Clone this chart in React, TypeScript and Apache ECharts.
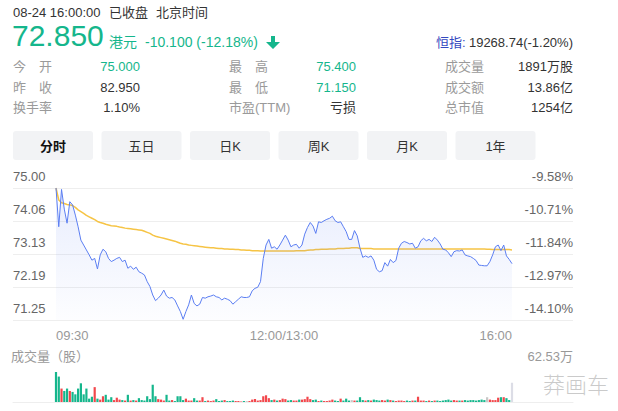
import React, { useEffect, useRef } from "react";
import * as echarts from "echarts";

// minute offsets from 09:30 (trading minutes, 2-minute samples), 0..330
const PRICES = [
  75.0, 73.9, 74.96, 74.4, 74.0, 74.61, 74.52, 74.23, 73.9, 73.52,
  73.38, 73.24, 73.1, 72.95, 73.0, 72.7, 73.1, 73.26, 73.19, 73.0,
  72.91, 72.95, 73.0, 73.03, 72.91, 72.95, 72.72, 72.78, 72.69, 72.75,
  72.62, 72.58, 72.53, 72.34, 72.2, 71.96, 71.8, 71.87, 71.96, 72.1,
  71.93, 71.87, 71.89, 71.82, 71.65, 71.49, 71.27, 71.49, 71.68, 71.96,
  71.72, 71.65, 71.7, 71.89, 71.87, 71.91, 71.93, 71.96, 71.91, 71.89,
  71.82, 71.87, 71.84, 71.8, 71.7, 71.77, 71.84, 71.91, 71.89, 71.89,
  71.91, 72.08, 72.15, 72.18, 72.34, 73.0, 73.38, 73.54, 73.29, 73.33,
  73.26, 73.38, 73.52, 73.66, 73.52, 73.33, 73.38, 73.4, 73.29, 73.38,
  73.69, 73.88, 74.02, 73.92, 73.71, 74.04, 74.02, 74.07, 74.11, 74.14,
  74.2, 74.07, 74.02, 74.04, 73.9, 73.76, 73.54, 73.54, 73.79, 73.64,
  73.29, 73.03, 73.07, 73.03, 73.07, 72.95, 72.69, 72.62, 72.65, 72.88,
  72.78, 72.97, 72.88, 72.94, 73.29, 73.43, 73.48, 73.45, 73.41, 73.43,
  73.29, 73.33, 73.5, 73.57, 73.5, 73.54, 73.48, 73.6, 73.52, 73.41,
  73.26, 73.24, 73.16, 73.05, 73.19, 73.22, 73.21, 73.24, 73.1, 73.07,
  73.05, 73.0, 72.94, 72.81, 72.8, 72.79, 72.79, 72.91, 73.1, 73.33,
  73.38, 73.22, 73.38, 73.07, 72.97, 72.85,
];

const AVG_PRICES = [
  75.0, 74.66, 74.58, 74.56, 74.53, 74.52, 74.5, 74.45, 74.38, 74.33,
  74.28, 74.22, 74.18, 74.14, 74.1, 74.05, 74.02, 74.0, 73.97, 73.95,
  73.93, 73.92, 73.91, 73.89, 73.88, 73.86, 73.85, 73.84, 73.83, 73.82,
  73.81, 73.8, 73.77, 73.74, 73.71, 73.66, 73.63, 73.61, 73.59, 73.57,
  73.55, 73.53, 73.51, 73.49, 73.46, 73.43, 73.41, 73.4, 73.38, 73.37,
  73.36, 73.35, 73.34, 73.33, 73.32, 73.31, 73.3, 73.3, 73.29, 73.28,
  73.28, 73.27, 73.27, 73.26, 73.26, 73.25, 73.25, 73.24, 73.24, 73.23,
  73.23, 73.22, 73.22, 73.22, 73.21, 73.21, 73.21, 73.21, 73.21, 73.21,
  73.21, 73.21, 73.21, 73.21, 73.21, 73.21, 73.21, 73.22, 73.22, 73.22,
  73.22, 73.23, 73.24, 73.24, 73.25, 73.25, 73.26, 73.26, 73.26, 73.27,
  73.27, 73.27, 73.28, 73.28, 73.28, 73.29, 73.29, 73.3, 73.3, 73.3,
  73.28, 73.28, 73.28, 73.28, 73.28, 73.27, 73.27, 73.27, 73.27, 73.27,
  73.27, 73.27, 73.27, 73.27, 73.27, 73.27, 73.27, 73.27, 73.27, 73.27,
  73.27, 73.27, 73.27, 73.27, 73.27, 73.27, 73.27, 73.27, 73.27, 73.27,
  73.27, 73.27, 73.27, 73.27, 73.27, 73.27, 73.27, 73.27, 73.27, 73.27,
  73.27, 73.27, 73.27, 73.27, 73.27, 73.27, 73.26, 73.26, 73.25, 73.25,
  73.25, 73.25, 73.25, 73.25, 73.25, 73.24,
];

// volume in 万股
const VOLUMES = [
  62.53, 53, 28, 23, 28, 23, 21, 16, 28, 39,
  16, 28, 7, 11, 31, 7, 5, 12, 15, 5,
  10, 4, 9, 5, 4, 3, 15, 3, 4, 3,
  8, 4, 3, 12, 6, 36, 12, 6, 5, 3,
  15, 3, 4, 2, 12, 12, 4, 7, 3, 3,
  8, 3, 3, 10, 2, 3, 2, 3, 6, 2,
  3, 4, 2, 2, 3, 2, 2, 1, 2, 2,
  2, 5, 6, 3, 4, 12, 14, 8, 4, 5,
  3, 4, 7, 6, 3, 4, 3, 3, 5, 5,
  6, 11, 6, 4, 5, 2, 3, 2, 2, 3,
  5, 3, 2, 7, 3, 7, 3, 4, 3, 3,
  10, 4, 3, 4, 3, 5, 4, 3, 4, 3,
  5, 4, 3, 2, 3, 3, 2, 3, 2, 3,
  3, 11, 3, 3, 2, 3, 2, 3, 3, 2,
  3, 4, 5, 3, 4, 3, 3, 3, 4, 3,
  4, 4, 3, 4, 5, 4, 10, 5, 4, 4,
  9, 10, 10, 8, 4, 40,
];

const STEP_MINUTES = 2;
const MINUTES = PRICES.map((_, i) => i * STEP_MINUTES);
const TOTAL_MINUTES = 330;
const X_TICK_LABELS = ["09:30", "12:00/13:00", "16:00"];
const PREV_CLOSE = 82.95;
const Y_MIN = 71.25;
const Y_MAX = 75.0;
const Y_INTERVAL = 0.9375;
const VOL_MAX = Math.max(...VOLUMES);

const HEADER_TIME = "08-24 16:00:00";
const STATUS = "已收盘";
const TZ = "北京时间";
const LAST = "72.850";
const CURRENCY = "港元";
const CHANGE = "-10.100 (-12.18%)";
const INDEX_NAME = "恒指:";
const INDEX_VALUE = "19268.74(-1.20%)";
const TABS = ["分时", "五日", "日K", "周K", "月K", "1年"];

const FONT = '"Liberation Sans", Arial, "Noto Sans CJK SC", sans-serif';
const GREEN = "#15b68c";
const RED = "#f2474c";
const LABEL = "#9a9a9a";
const DARK = "#333";

function txt(text: string, x: number, y: number, o: any = {}) {
  return {
    type: "text",
    x,
    y,
    silent: true,
    style: {
      text,
      fill: o.fill || DARK,
      fontSize: o.size || 13,
      fontFamily: FONT,
      fontWeight: o.weight || "normal",
      align: o.align || "left",
      verticalAlign: "middle",
    },
  };
}

export default function App() {
  const ref = useRef<HTMLDivElement>(null);
  useEffect(() => {
    if (!ref.current) return;
    const chart = echarts.init(ref.current, null, { renderer: "svg" });

    const volData = VOLUMES.map((v, i) => {
      let color = GREEN;
      const prev = i === 0 ? PREV_CLOSE : PRICES[i - 1];
      if (PRICES[i] > prev) color = RED;
      else if (PRICES[i] === prev) color = "#c8c8c8";
      if (i === VOLUMES.length - 1) color = "#dcdde6";
      return { value: [MINUTES[i], v], itemStyle: { color } };
    });

    const graphic: any[] = [
      txt(HEADER_TIME, 13, 12),
      txt(STATUS, 109, 12),
      txt(TZ, 156, 12),
      txt(LAST, 12, 35, { fill: GREEN, size: 30 }),
      txt(CURRENCY, 109, 42, { fill: GREEN, size: 14 }),
      txt(CHANGE, 145, 42, { fill: GREEN, size: 14 }),
      {
        type: "polygon",
        silent: true,
        shape: {
          points: [
            [271, 36], [275, 36], [275, 42], [280, 42], [273, 49], [266, 42], [271, 42],
          ],
        },
        style: { fill: GREEN },
      },
      txt(INDEX_NAME, 436, 42, { fill: "#3548c0" }),
      txt(INDEX_VALUE, 573, 42, { align: "right" }),
      // row 1
      txt("今", 13, 66, { fill: LABEL }),
      txt("开", 39, 66, { fill: LABEL }),
      txt("75.000", 140, 66, { fill: GREEN, align: "right" }),
      txt("最", 229, 66, { fill: LABEL }),
      txt("高", 255, 66, { fill: LABEL }),
      txt("75.400", 356, 66, { fill: GREEN, align: "right" }),
      txt("成交量", 445, 66, { fill: LABEL }),
      txt("1891万股", 573, 66, { align: "right" }),
      // row 2
      txt("昨", 13, 87, { fill: LABEL }),
      txt("收", 39, 87, { fill: LABEL }),
      txt("82.950", 140, 87, { align: "right" }),
      txt("最", 229, 87, { fill: LABEL }),
      txt("低", 255, 87, { fill: LABEL }),
      txt("71.150", 356, 87, { fill: GREEN, align: "right" }),
      txt("成交额", 445, 87, { fill: LABEL }),
      txt("13.86亿", 573, 87, { align: "right" }),
      // row 3
      txt("换手率", 13, 107, { fill: LABEL }),
      txt("1.10%", 140, 107, { align: "right" }),
      txt("市盈(TTM)", 229, 107, { fill: LABEL }),
      txt("亏损", 356, 107, { align: "right" }),
      txt("总市值", 445, 107, { fill: LABEL }),
      txt("1254亿", 573, 107, { align: "right" }),
      // volume label + watermark
      txt("成交量（股）", 11, 356, { fill: LABEL }),
      {
        type: "text",
        x: 576,
        y: 383,
        silent: true,
        style: {
          text: "莽画车",
          fill: "rgba(185,185,185,0.75)",
          fontSize: 22,
          fontFamily: '"Noto Sans CJK SC", sans-serif',
          fontWeight: 300,
          align: "center",
          verticalAlign: "middle",
        },
      },
    ];

    TABS.forEach((t, i) => {
      const x = 13 + i * 88.5;
      graphic.push({
        type: "rect",
        silent: true,
        shape: { x, y: 131, width: 80, height: 29, r: 3 },
        style: { fill: "#f2f3f5" },
      });
      graphic.push(
        txt(t, x + 40, 146, {
          align: "center",
          fill: i === 0 ? "#111" : DARK,
          weight: i === 0 ? "bold" : "normal",
        })
      );
    });

    const pctFmt = (v: number) => ((v / PREV_CLOSE - 1) * 100).toFixed(2) + "%";

    chart.setOption({
      animation: false,
      textStyle: { fontFamily: FONT },
      graphic,
      grid: [
        { left: 13, right: 45, top: 188, height: 132 },
        { left: 56, right: 106, top: 188, height: 132 },
        { left: 56, right: 106, top: 372, height: 30 },
        { left: 13, right: 45, top: 372, height: 30 },
      ],
      xAxis: [
        { gridIndex: 0, type: "value", min: 0, max: 1, show: false },
        {
          gridIndex: 1,
          type: "value",
          min: 0,
          max: TOTAL_MINUTES,
          interval: TOTAL_MINUTES / 2,
          axisLine: { show: false },
          axisTick: { show: false },
          splitLine: { show: false },
          axisLabel: {
            color: "#999",
            fontSize: 13,
            margin: 9,
            alignMinLabel: "left",
            alignMaxLabel: "right",
            formatter: (v: number) => X_TICK_LABELS[Math.round(v / (TOTAL_MINUTES / 2))],
          },
        },
        { gridIndex: 2, type: "value", min: 0, max: TOTAL_MINUTES, show: false },
        {
          gridIndex: 3,
          type: "value",
          min: 0,
          max: 1,
          axisLine: { show: true, lineStyle: { color: "#eeeeee" } },
          axisTick: { show: false },
          axisLabel: { show: false },
          splitLine: { show: false },
        },
      ],
      yAxis: [
        {
          gridIndex: 0,
          type: "value",
          position: "left",
          min: Y_MIN,
          max: Y_MAX,
          interval: Y_INTERVAL,
          axisLine: { show: false },
          axisTick: { show: false },
          splitLine: { lineStyle: { color: "#eeeeee", width: 1 } },
          axisLabel: {
            inside: true,
            margin: 0,
            align: "left",
            verticalAlign: "bottom",
            padding: [0, 0, 5, 0],
            color: "#666",
            fontSize: 13,
            formatter: (v: number) => v.toFixed(2),
          },
        },
        {
          gridIndex: 0,
          type: "value",
          position: "right",
          min: Y_MIN,
          max: Y_MAX,
          interval: Y_INTERVAL,
          axisLine: { show: false },
          axisTick: { show: false },
          splitLine: { show: false },
          axisLabel: {
            inside: true,
            margin: 0,
            align: "right",
            verticalAlign: "bottom",
            padding: [0, 0, 5, 0],
            color: "#666",
            fontSize: 13,
            formatter: pctFmt,
          },
        },
        { gridIndex: 1, type: "value", min: Y_MIN, max: Y_MAX, show: false },
        { gridIndex: 2, type: "value", min: 0, max: VOL_MAX, show: false },
        {
          gridIndex: 3,
          type: "value",
          position: "right",
          min: 0,
          max: VOL_MAX,
          interval: VOL_MAX,
          axisLine: { show: false },
          axisTick: { show: false },
          splitLine: { show: false },
          axisLabel: {
            inside: true,
            margin: 0,
            align: "right",
            verticalAlign: "bottom",
            padding: [0, 0, 9, 0],
            color: "#999",
            fontSize: 13,
            formatter: (v: number) => (v > 0 ? VOL_MAX.toFixed(2) + "万" : ""),
          },
        },
      ],
      series: [
        {
          type: "line",
          xAxisIndex: 1,
          yAxisIndex: 2,
          data: PRICES.map((p, i) => [MINUTES[i], p]),
          symbol: "none",
          lineStyle: { color: "#5b7ef2", width: 1 },
          itemStyle: { color: "#5b7ef2" },
          areaStyle: {
            origin: "start",
            color: new echarts.graphic.LinearGradient(0, 0, 0, 1, [
              { offset: 0, color: "rgba(91,126,242,0.2)" },
              { offset: 1, color: "rgba(91,126,242,0.02)" },
            ]),
          },
          z: 3,
        },
        {
          type: "line",
          xAxisIndex: 1,
          yAxisIndex: 2,
          data: AVG_PRICES.map((p, i) => [MINUTES[i], p]),
          symbol: "none",
          lineStyle: { color: "#f6c445", width: 1.5 },
          itemStyle: { color: "#f6c445" },
          z: 2,
        },
        {
          type: "bar",
          xAxisIndex: 2,
          yAxisIndex: 3,
          data: volData,
          barWidth: 2.2,
        },
      ],
    });
    return () => chart.dispose();
  }, []);
  return (
    <div
      ref={ref}
      style={{ position: "absolute", left: 0, top: 0, width: 618, height: 411, background: "#fff" }}
    />
  );
}
